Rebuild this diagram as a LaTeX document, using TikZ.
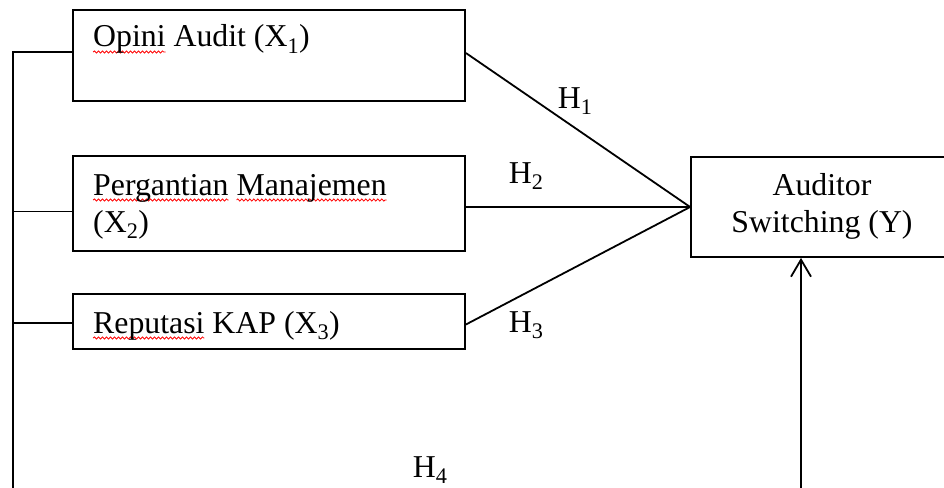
\documentclass[tikz,border=0pt]{standalone}
\usepackage{fontspec}
\setmainfont{Liberation Serif}
\usetikzlibrary{arrows.meta,decorations.pathmorphing}
\newlength{\spellw}
\newcommand{\spell}[1]{\settowidth{\spellw}{#1}\rlap{\tikz[overlay]\draw[red,line width=0.8pt,decorate,decoration={snake,amplitude=1.1pt,segment length=4pt}] (0pt,-5pt) -- (\spellw,-5pt);}#1}

\begin{document}
\begin{tikzpicture}[x=1pt,y=-1pt,line width=1.8pt,
    box/.style={draw,rectangle,inner sep=0},
    lbl/.style={inner sep=0,font=\fontsize{31.8pt}{37pt}\selectfont}]
    \clip (0,0) rectangle (944,487);
    \node[box,minimum width=392,minimum height=91] (x1) at (269,55.5) {};
    \node[box,minimum width=392,minimum height=95] (x2) at (269,203.5) {};
    \node[box,minimum width=392,minimum height=55] (x3) at (269,321.5) {};
    \node[box,minimum width=309,minimum height=100] (y) at (845.5,207) {};
    \node[lbl,anchor=base west] (tx1) at (93,47) {\spell{Opini} Audit (X\textsubscript{1})};
    \node[lbl,anchor=base west,align=left] (tx2) at (93,232) {\spell{Pergantian} \spell{Manajemen}\\(X\textsubscript{2})};
    \node[lbl,anchor=base west] (tx3) at (93,333) {\spell{Reputasi} KAP (X\textsubscript{3})};
    \node[lbl,anchor=base,align=center] (ty) at (822,232) {Auditor\\Switching (Y)};
    \node[lbl,anchor=base west] (h1) at (557,108) {H\textsubscript{1}};
    \node[lbl,anchor=base west] (h2) at (508,183) {H\textsubscript{2}};
    \node[lbl,anchor=base west] (h3) at (508,332) {H\textsubscript{3}};
    \node[lbl,anchor=base west] (h4) at (412,477) {H\textsubscript{4}};
    \draw ([yshift=2.5pt]x1.east) -- (y.west);
    \draw (x2.east |- y.west) -- (y.west);
    \draw ([yshift=-3pt]x3.east) -- (y.west);
    \coordinate (lbot) at (13,500);
    \coordinate (rbot) at (801,500);
    \draw ([yshift=3.5pt]x1.west) -| (lbot);
    \draw ([yshift=-8pt]x2.west) -- ([yshift=-8pt]x2.west -| lbot);
    \draw ([yshift=-1.5pt]x3.west) -- ([yshift=-1.5pt]x3.west -| lbot);
    \draw[-{Straight Barb[length=17pt,width=20pt]}] (rbot) -- (rbot |- y.south);
\end{tikzpicture}
\end{document}
